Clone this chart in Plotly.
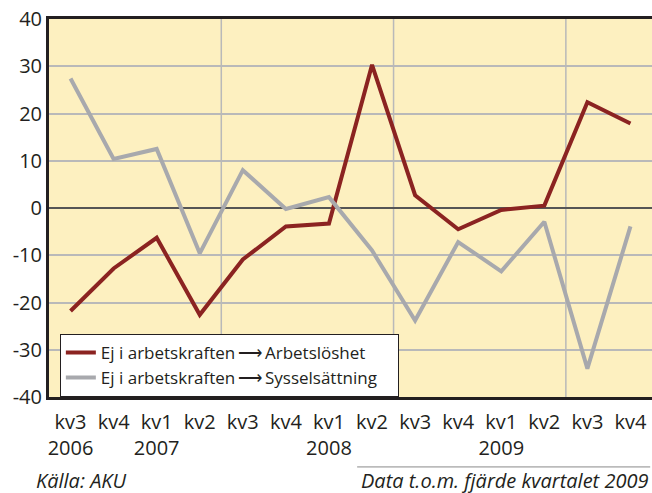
import plotly.graph_objects as go

quarters = ["kv3<br>2006", "kv4", "kv1<br>2007", "kv2", "kv3", "kv4", "kv1<br>2008", "kv2",
            "kv3", "kv4", "kv1<br>2009", "kv2", "kv3", "kv4"]
arbetsloshet = [-21.8, -12.8, -6.3, -22.6, -10.9, -3.9, -3.3, 30.3, 2.7, -4.5, -0.4, 0.5, 22.4, 17.9]
sysselsattning = [27.4, 10.4, 12.5, -9.6, 8.0, -0.2, 2.3, -9.0, -23.8, -7.2, -13.4, -2.9, -34.0, -3.9]
series_names = ["Ej i arbetskraften\u2009\u27f6\u2009Arbetslöshet\u00a0\u00a0\u00a0\u00a0\u00a0\u00a0",
                "Ej i arbetskraften\u2009\u27f6\u2009Sysselsättning"]
yticks = [-40, -30, -20, -10, 0, 10, 20, 30, 40]
ytick_labels = ["-40", "-30", "-20", "-10", "0", "10", "20", "30", "40"]
year_gridlines = [3.5, 7.5, 11.5]

FONT = "Open Sans"
TXT = "#231f20"
x = list(range(len(quarters)))

fig = go.Figure()
fig.add_trace(go.Scatter(x=x, y=arbetsloshet, mode="lines", name=series_names[0],
                         line=dict(color="#8b2321", width=4)))
fig.add_trace(go.Scatter(x=x, y=sysselsattning, mode="lines", name=series_names[1],
                         line=dict(color="#a8a9ad", width=4)))

for gx in year_gridlines:
    fig.add_shape(type="line", xref="x", yref="paper", x0=gx, x1=gx, y0=0, y1=1,
                  line=dict(color="#b9b9b9", width=1.5), layer="between")

fig.add_shape(type="line", xref="paper", yref="paper", x0=0.511, x1=0.997, y0=-0.185, y1=-0.185,
              line=dict(color="#8a8a8a", width=1))

fig.add_annotation(text="<i>Källa: AKU</i>", xref="paper", yref="paper", x=-0.025, y=-0.222,
                   xanchor="left", yanchor="middle", showarrow=False,
                   font=dict(family=FONT, size=20, color=TXT))
fig.add_annotation(text="<i>Data t.o.m. fjärde kvartalet 2009</i>", xref="paper", yref="paper",
                   x=0.997, y=-0.222, xanchor="right", yanchor="middle", showarrow=False,
                   font=dict(family=FONT, size=20, color=TXT))

fig.update_layout(
    width=652, height=493,
    margin=dict(l=49, r=0, t=19, b=96),
    paper_bgcolor="white",
    plot_bgcolor="#fdf0c0",
    font=dict(family=FONT, color=TXT),
    showlegend=True,
    legend=dict(x=0.018, y=0.167, xanchor="left", yanchor="top",
                bgcolor="white", bordercolor="#231f20", borderwidth=1,
                font=dict(family=FONT, size=17, color=TXT),
                tracegroupgap=0, itemwidth=30),
    xaxis=dict(range=[-0.5, 13.5], tickmode="array", tickvals=x, ticktext=quarters,
               showgrid=False, showline=True, linecolor="#231f20", linewidth=3, mirror=True,
               ticks="", ticklabelstandoff=5,
               tickfont=dict(family=FONT, size=20, color=TXT), zeroline=False),
    yaxis=dict(range=[-40, 40], tickmode="array", tickvals=yticks, ticktext=ytick_labels,
               showgrid=True, gridcolor="#b9b9b9", gridwidth=1.5,
               zeroline=True, zerolinecolor="#555555", zerolinewidth=2,
               showline=True, linecolor="#231f20", linewidth=3, mirror=False,
               ticks="", tickfont=dict(family=FONT, size=20, color=TXT)),
)

fig.write_html("out.html", config={"displayModeBar": False},
               post_script="document.body.style.margin='0';document.body.style.overflow='hidden';")
